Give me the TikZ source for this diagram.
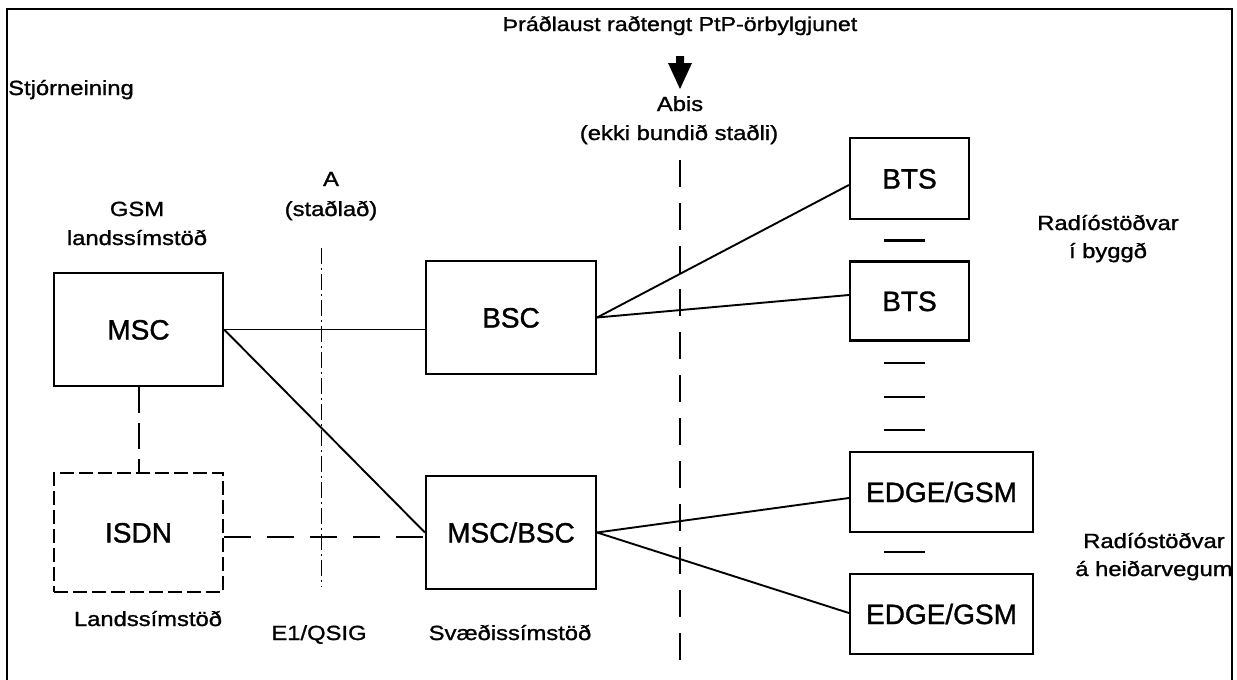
\documentclass[tikz,border=0pt]{standalone}
\usepackage{fontspec}
\setmainfont[FakeBold=1.2]{Liberation Sans}
\newfontfamily\lblfont[FakeStretch=1.16,FakeBold=1.2]{Liberation Sans}
\usetikzlibrary{calc}
\tikzset{
  box/.style={draw, line width=2.2pt, inner sep=0pt, text height=20pt, text depth=0pt,
    font=\fontsize{28}{32}\selectfont},
  dbox/.style={box, dash pattern=on 14pt off 5pt},
  lbl/.style={inner sep=0pt, anchor=base, font=\lblfont\fontsize{20.5}{24}\selectfont},
  conn/.style={line width=1.9pt},
  longdash/.style={line width=2pt, dash pattern=on 27pt off 16pt},
  dashdot/.style={line width=1.8pt, dash pattern=on 16pt off 4pt on 2pt off 4pt},
  sep/.style={line width=2.5pt},
  frame/.style={line width=2pt}
}
\begin{document}
\begin{tikzpicture}[x=1pt,y=-1pt]
\useasboundingbox (0,0) rectangle (1237,680);
\fill[white] (0,0) rectangle (1237,680);
% frame
\coordinate (fbl) at (7,680);
\coordinate (ftl) at (7,9);
\coordinate (ftr) at (1232,9);
\coordinate (fbr) at (1232,680);
\draw[frame] (fbl) -- (ftl) -- (ftr) -- (fbr);

% boxes
\node[box, minimum width=169pt, minimum height=113pt] (msc) at (138.5,329.5) {MSC};
\node[dbox, minimum width=169pt, minimum height=119pt] (isdn) at (138.5,532.5) {ISDN};
\node[box, minimum width=170pt, minimum height=113pt] (bsc) at (511,317.5) {BSC};
\node[box, minimum width=170pt, minimum height=113pt] (mscbsc) at (511,532.5) {MSC/BSC};
\node[box, minimum width=119pt, minimum height=81pt] (bts1) at (909.5,178.5) {BTS};
\node[box, minimum width=119pt, minimum height=79pt] (bts2) at (909.5,301) {BTS};
\node[box, minimum width=183pt, minimum height=80pt] (edge1) at (941.5,492) {EDGE/GSM};
\node[box, minimum width=183pt, minimum height=80pt] (edge2) at (941.5,614) {EDGE/GSM};

% interface lines
\coordinate (atop) at (321.5,248);
\coordinate (abot) at (321.5,587);
\draw[dashdot] (atop) -- (abot);
\coordinate (abistop) at (680,160);
\coordinate (abisbot) at (680,662);
\draw[longdash] (abistop) -- (abisbot);

% connectors
\draw[conn] (msc.east) -- (msc.east -| bsc.west);
\draw[conn] (msc.east) -- (mscbsc.west);
\draw[longdash, dash pattern=on 26pt off 10pt] (msc.south) -- (isdn.north);
\draw[longdash] ([yshift=-4pt]isdn.east) -- ([yshift=-4pt]mscbsc.west);
\draw[conn] (bsc.east) -- ([yshift=-6.5pt]bts1.west);
\draw[conn] (bsc.east) -- ([yshift=6pt]bts2.west);
\draw[conn] (mscbsc.east) -- ([yshift=-6pt]edge1.west);
\draw[conn] (mscbsc.east) -- ([yshift=1pt]edge2.west);

% separators
\foreach \yy/\nm in {240.5/s1,363/s2,397/s3,430/s4,552/s5}{
  \coordinate (\nm a) at (884,\yy);
  \coordinate (\nm b) at (925,\yy);
  \draw[sep] (\nm a) -- (\nm b);
}

% arrow
\fill[black] (676,56) -- (684,56) -- (684,63) -- (692,63) -- (680,89) -- (668,63) -- (676,63) -- cycle;

% labels
\node[lbl, font=\lblfont\fontsize{20}{24}\selectfont] (title) at (680,31) {Þráðlaust raðtengt PtP-örbylgjunet};
\node[lbl, anchor=base west] (stj) at (8,95) {Stjórneining};
\node[lbl] (abis) at (680,111) {Abis};
\node[lbl] (ekki) at (679,140) {(ekki bundið staðli)};
\node[lbl] (a) at (331,186) {A};
\node[lbl] (stadlad) at (331,216) {(staðlað)};
\node[lbl] (gsm) at (137,216) {GSM};
\node[lbl] (lands1) at (137,245) {landssímstöð};
\node[lbl] (lands2) at (148,626) {Landssímstöð};
\node[lbl] (e1) at (319,640) {E1/QSIG};
\node[lbl] (svaedis) at (510,640) {Svæðissímstöð};
\node[lbl] (radio1) at (1108,230) {Radíóstöðvar};
\node[lbl] (byggd) at (1108,258) {í byggð};
\node[lbl] (radio2) at (1154,548) {Radíóstöðvar};
\node[lbl] (heidar) at (1154,576) {á heiðarvegum};
\end{tikzpicture}
\end{document}
